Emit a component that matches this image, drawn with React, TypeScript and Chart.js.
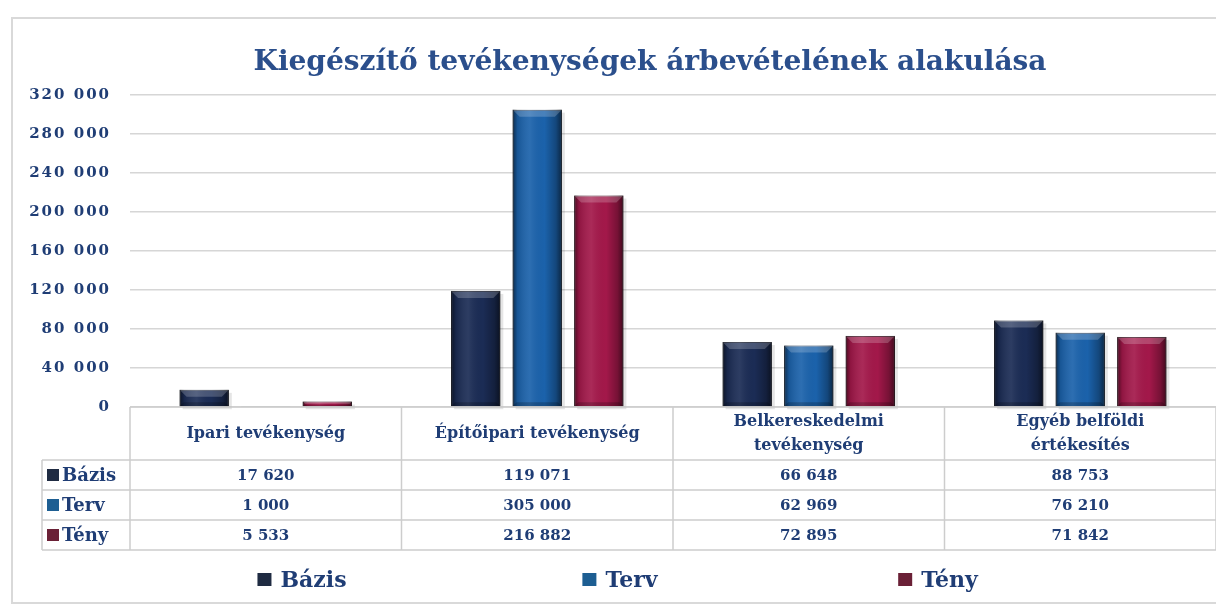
import React, { useEffect, useRef } from 'react';
import { Chart, registerables } from 'chart.js';

Chart.register(...registerables);

const chartTitle = 'Kiegészítő tevékenységek árbevételének alakulása';
const categories: string[][] = [
  ['Ipari tevékenység'],
  ['Építőipari tevékenység'],
  ['Belkereskedelmi', 'tevékenység'],
  ['Egyéb belföldi', 'értékesítés'],
];
const seriesLabels = ['Bázis', 'Terv', 'Tény'];
const bazisValues = [17620, 119071, 66648, 88753];
const tervValues = [1000, 305000, 62969, 76210];
const tenyValues = [5533, 216882, 72895, 71842];
const yTickValues = [0, 40000, 80000, 120000, 160000, 200000, 240000, 280000, 320000];

const barColors = ['#1b2c55', '#1b62ab', '#a3184a'];
const keyColors = ['#1f2b42', '#1d5e92', '#6a2036'];
const textColor = '#1f3d75';
const titleColor = '#2b4f8c';
const SERIF = '"DejaVu Serif", "Liberation Serif", serif';

const fmt = (n: number) => String(n).replace(/\B(?=(\d{3})+(?!\d))/g, ' ');

const decorPlugin = {
  id: 'decor',
  beforeDraw(chart: any) {
    const ctx = chart.ctx as CanvasRenderingContext2D;
    ctx.save();
    ctx.fillStyle = '#ffffff';
    ctx.fillRect(0, 0, chart.width, chart.height);
    ctx.strokeStyle = '#d9d9d9';
    ctx.lineWidth = 2;
    ctx.strokeRect(12, 18, chart.width - 8, 585);
    ctx.restore();
    (ctx as any).letterSpacing = '2px';
  },
  beforeDatasetsDraw(chart: any) {
    const ctx = chart.ctx as CanvasRenderingContext2D;
    (ctx as any).letterSpacing = '0px';
    ctx.save();
    chart.data.datasets.forEach((_: any, di: number) => {
      const meta = chart.getDatasetMeta(di);
      meta.data.forEach((el: any) => {
        const { x, y, base, width } = el.getProps(['x', 'y', 'base', 'width'], true);
        const t = Math.min(y, base);
        const b = Math.max(y, base);
        if (b - t < 1) return;
        ctx.fillStyle = 'rgba(0,0,0,0.10)';
        ctx.fillRect(x - width / 2 + 3, t + 3, width, b - t);
      });
    });
    ctx.restore();
  },
  afterDatasetsDraw(chart: any) {
    const ctx = chart.ctx as CanvasRenderingContext2D;
    ctx.save();
    chart.data.datasets.forEach((_: any, di: number) => {
      const meta = chart.getDatasetMeta(di);
      meta.data.forEach((el: any) => {
        const { x, y, base, width } = el.getProps(['x', 'y', 'base', 'width'], true);
        const l = x - width / 2;
        const r = x + width / 2;
        const t = Math.min(y, base);
        const b = Math.max(y, base);
        const h = b - t;
        if (h < 1) return;
        const g = ctx.createLinearGradient(l, 0, r, 0);
        g.addColorStop(0, 'rgba(0,0,0,0.55)');
        g.addColorStop(0.1, 'rgba(0,0,0,0.12)');
        g.addColorStop(0.35, 'rgba(255,255,255,0.08)');
        g.addColorStop(0.65, 'rgba(0,0,0,0)');
        g.addColorStop(0.88, 'rgba(0,0,0,0.28)');
        g.addColorStop(1, 'rgba(0,0,0,0.6)');
        ctx.fillStyle = g;
        ctx.fillRect(l, t, width, h);
        const bv = Math.min(7, h / 2);
        ctx.beginPath();
        ctx.moveTo(l, t);
        ctx.lineTo(r, t);
        ctx.lineTo(r - bv, t + bv);
        ctx.lineTo(l + bv, t + bv);
        ctx.closePath();
        ctx.fillStyle = 'rgba(255,255,255,0.2)';
        ctx.fill();
        const bb = Math.min(4, h / 3);
        ctx.beginPath();
        ctx.moveTo(l, b);
        ctx.lineTo(r, b);
        ctx.lineTo(r - bb, b - bb);
        ctx.lineTo(l + bb, b - bb);
        ctx.closePath();
        ctx.fillStyle = 'rgba(0,0,0,0.2)';
        ctx.fill();
      });
    });
    ctx.restore();
  },
  afterDraw(chart: any) {
    const ctx = chart.ctx as CanvasRenderingContext2D;
    (ctx as any).letterSpacing = '0px';
    ctx.save();
    // title
    ctx.fillStyle = titleColor;
    ctx.font = `bold 28px ${SERIF}`;
    ctx.textAlign = 'center';
    ctx.textBaseline = 'alphabetic';
    ctx.fillText(chartTitle, 650, 70);

    // data table
    const area = chart.chartArea;
    const xScale = chart.scales.x;
    const left = area.left;
    const right = area.right;
    const colW = (right - left) / categories.length;
    const top = area.bottom;
    const headerBottom = top + 53;
    const rowH = 30;
    const tableBottom = headerBottom + rowH * seriesLabels.length;
    const labelLeft = 42;
    ctx.strokeStyle = '#cdcdcd';
    ctx.lineWidth = 1.5;
    const line = (x1: number, y1: number, x2: number, y2: number) => {
      ctx.beginPath();
      ctx.moveTo(x1, y1);
      ctx.lineTo(x2, y2);
      ctx.stroke();
    };
    line(left, top, right, top);
    for (let k = 0; k <= seriesLabels.length; k++) {
      const y = headerBottom + k * rowH;
      line(labelLeft, y, right, y);
    }
    for (let i = 0; i <= categories.length; i++) {
      const x = left + i * colW;
      line(x, top, x, tableBottom);
    }
    line(labelLeft, headerBottom, labelLeft, tableBottom);

    ctx.fillStyle = textColor;
    ctx.font = `bold 16px ${SERIF}`;
    ctx.textAlign = 'center';
    ctx.textBaseline = 'middle';
    categories.forEach((lines, i) => {
      const cx = xScale.getPixelForValue(i);
      const cy = (top + headerBottom) / 2;
      lines.forEach((txt, j) => {
        const yy = cy + (j - (lines.length - 1) / 2) * 24;
        ctx.fillText(txt, cx, yy);
      });
    });
    const rows = [bazisValues, tervValues, tenyValues];
    rows.forEach((vals, k) => {
      const cy = headerBottom + k * rowH + rowH / 2;
      ctx.fillStyle = keyColors[k];
      ctx.fillRect(47, cy - 6, 12, 12);
      ctx.fillStyle = textColor;
      ctx.font = `bold 18px ${SERIF}`;
      ctx.textAlign = 'left';
      ctx.fillText(seriesLabels[k], 62, cy + 1);
      ctx.font = `bold 15px ${SERIF}`;
      ctx.textAlign = 'center';
      vals.forEach((v, i) => {
        ctx.fillText(fmt(v), xScale.getPixelForValue(i), cy + 1);
      });
    });

    // legend
    ctx.font = `bold 22px ${SERIF}`;
    ctx.textAlign = 'left';
    const legendY = 580;
    seriesLabels.forEach((lab, k) => {
      const tw = ctx.measureText(lab).width;
      const total = 14 + 9 + tw;
      const cx = 620 + (k - 1) * 318;
      const sx = cx - total / 2;
      ctx.fillStyle = keyColors[k];
      ctx.fillRect(sx, legendY - 7, 14, 13);
      ctx.fillStyle = textColor;
      ctx.fillText(lab, sx + 23, legendY + 1);
    });
    ctx.restore();
  },
};

export default function App() {
  const canvasRef = useRef<HTMLCanvasElement | null>(null);
  useEffect(() => {
    if (!canvasRef.current) return;
    const chart = new Chart(canvasRef.current, {
      type: 'bar',
      data: {
        labels: categories.map((c) => c.join(' ')),
        datasets: [
          { label: seriesLabels[0], data: bazisValues, backgroundColor: barColors[0], borderColor: '#0d1428', borderWidth: 1 },
          { label: seriesLabels[1], data: tervValues, backgroundColor: barColors[1], borderColor: '#0e2440', borderWidth: 1 },
          { label: seriesLabels[2], data: tenyValues, backgroundColor: barColors[2], borderColor: '#3a0a1c', borderWidth: 1 },
        ],
      },
      options: {
        responsive: false,
        animation: false,
        events: [],
        layout: { padding: { left: 0, right: 0, top: 95, bottom: 204 } },
        datasets: { bar: { categoryPercentage: 0.68, barPercentage: 0.8 } },
        plugins: {
          legend: { display: false },
          title: { display: false },
          tooltip: { enabled: false },
        },
        scales: {
          x: { display: false },
          y: {
            min: 0,
            max: 320000,
            afterBuildTicks: (s: any) => {
              s.ticks = yTickValues.map((v) => ({ value: v }));
            },
            afterFit: (s: any) => {
              s.width = 130;
            },
            border: { display: false },
            grid: { color: '#d6d6d6', lineWidth: 1.5, drawTicks: false },
            ticks: {
              padding: 19,
              color: textColor,
              font: { family: SERIF, size: 15, weight: 'bold' },
              callback: (v: any) => fmt(Number(v)),
            },
          },
        },
      },
      plugins: [decorPlugin],
    });
    return () => chart.destroy();
  }, []);
  return (
    <div style={{ position: 'absolute', left: 0, top: 0, width: 1216, height: 611, background: '#fff' }}>
      <canvas ref={canvasRef} width={1216} height={611} />
    </div>
  );
}
